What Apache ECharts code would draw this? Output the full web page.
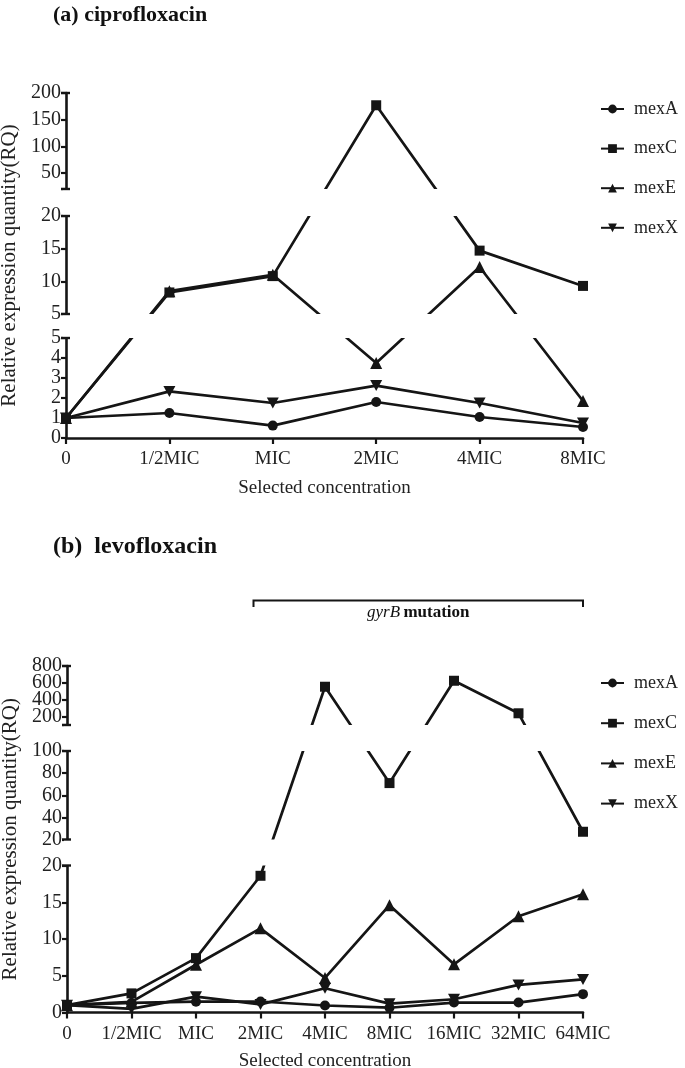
<!DOCTYPE html>
<html><head><meta charset="utf-8">
<script src="https://cdn.jsdelivr.net/npm/echarts@6/dist/echarts.min.js"></script>
<style>html,body{margin:0;padding:0;background:#fff}#c{width:685px;height:1068px}</style>
</head><body><div id="c"></div>
<script>
// ---------- data ----------
const catsA = ['0','1/2MIC','MIC','2MIC','4MIC','8MIC'];
const mexA_a = [1, 1.25, 0.62, 1.8, 1.05, 0.55];
const mexC_a = [1, 8.3, 10.8, 177, 14.7, 9.3];
const mexE_a = [1, 8.5, 11.0, 3.75, 12.2, 1.85];
const mexX_a = [1, 2.33, 1.75, 2.62, 1.75, 0.75];

const catsB = ['0','1/2MIC','MIC','2MIC','4MIC','8MIC','16MIC','32MIC','64MIC'];
const mexA_b = [1, 1.3, 1.47, 1.5, 0.95, 0.65, 1.35, 1.35, 2.5];
const mexC_b = [1, 2.6, 7.4, 18.6, 554, 71, 625, 239, 27];
const mexE_b = [1, 1.45, 6.5, 11.45, 4.7, 14.6, 6.55, 13.1, 16.1];
const mexX_b = [1, 0.5, 2.15, 1.1, 3.3, 1.2, 1.8, 3.75, 4.5];

// tick values of each axis segment (bottom, middle, top)
const ticksA = [[0,1,2,3,4,5],[5,10,15,20],[20,50,100,150,200]];
const labelsA = [[0,1,2,3,4,5],[5,10,15,20],[50,100,150,200]];
const ticksB = [[0,5,10,15,20],[20,40,60,80,100],[100,200,400,600,800]];
// tightly packed top-segment labels of (b) are split over two label layers
const labelsB = [[0,5,10,15,20],[20,40,60,80,100],[200,600]];
const labelsB2 = [[],[],[400,800]];

// ---------- broken-axis scale (value ranges -> display span) ----------
const segA = [{lo:0,hi:5,d0:0,d1:100},{lo:5,hi:20,d0:124,d1:222},{lo:20,hi:200,d0:249,d1:345}];
const segB = [{lo:0,hi:20,d0:0,d1:147},{lo:20,hi:100,d0:173,d1:261.5},{lo:100,hi:800,d0:287.5,d1:346.5}];

function inSeg(v, s){ return s.d0 + (v - s.lo) / (s.hi - s.lo) * (s.d1 - s.d0); }
function toD(v, segs){
  for (let i = 0; i < segs.length; i++) {
    if (v <= segs[i].hi || i === segs.length - 1) return inSeg(v, segs[i]);
  }
}
function tickVals(ticks, segs){ const out=[]; ticks.forEach((arr,i)=>arr.forEach(v=>out.push(inSeg(v,segs[i])))); return out; }
function labelMap(labels, segs){ const m={}; labels.forEach((arr,i)=>arr.forEach(v=>{m[inSeg(v,segs[i]).toFixed(3)]=String(v);})); return m; }

const FONT = 'Liberation Serif';
const INK = '#151515';

function yAxis(gi, segs, ticks, labels, withLine){
  const top = segs[segs.length-1].d1;
  const map = labelMap(labels, segs);
  return {
    type:'value', gridIndex:gi, min:0, max:top, position:'left', offset:0,
    name: withLine ? 'Relative expression quantity(RQ)' : '', nameLocation:'middle', nameGap:42,
    nameTextStyle:{fontFamily:FONT, fontSize:21, color:'#222'},
    splitLine:{show:false},
    axisLine:{show:withLine, lineStyle:{color:INK, width:2.6}},
    axisTick:{show:withLine, length:5, lineStyle:{color:INK, width:2.2}, customValues:tickVals(ticks, segs)},
    axisLabel:{margin:5, fontFamily:FONT, fontSize:20, color:'#222', hideOverlap:false,
      showMinLabel:true, showMaxLabel:true,
      customValues:tickVals(labels, segs), formatter:v=>map[v.toFixed(3)] ?? ''}
  };
}
function xAxis(gi, cats, gap, margin){
  return {
    type:'category', gridIndex:gi, data:cats, boundaryGap:false,
    name:'Selected concentration', nameLocation:'middle', nameGap:gap,
    nameTextStyle:{fontFamily:FONT, fontSize:19, color:'#222'},
    axisLine:{show:true, lineStyle:{color:INK, width:2.6}},
    axisTick:{show:true, length:6, inside:false, lineStyle:{color:INK, width:2.2}},
    axisLabel:{interval:0, margin, fontFamily:FONT, fontSize:19, color:'#222', hideOverlap:false},
    splitLine:{show:false}
  };
}
const downTri = 'path://M0,0L10,0L5,9Z';
const styles = {
  mexA:{symbol:'circle', size:10},
  mexC:{symbol:'rect', size:10},
  mexE:{symbol:'triangle', size:12},
  mexX:{symbol:downTri, size:[12,11]}
};
function ser(name, vals, segs, gi){
  return {
    type:'line', name, xAxisIndex:gi, yAxisIndex:gi,
    data: vals.map(v=>toD(v, segs)),
    symbol:styles[name].symbol, symbolSize:styles[name].size, showSymbol:true,
    lineStyle:{color:INK, width:2.7}, itemStyle:{color:INK},
    animation:false, z:3
  };
}
function legend(top, gap){
  return {
    orient:'vertical', left:600, top, padding:0, itemWidth:23, itemHeight:11, itemGap:gap,
    data:['mexA','mexC','mexE','mexX'], selectedMode:false,
    textStyle:{fontFamily:FONT, fontSize:18, color:'#222', lineHeight:20, padding:[0,0,0,5]}
  };
}

const chart = echarts.init(document.getElementById('c'), null, {renderer:'canvas'});
chart.setOption({
  animation:false,
  backgroundColor:'#fff',
  title:[
    {text:'(a) ciprofloxacin', left:53, top:4, padding:0, textStyle:{fontFamily:FONT, fontWeight:'bold', fontSize:22, color:'#111'}},
    {text:'(b)  levofloxacin', left:53, top:535, padding:0, textStyle:{fontFamily:FONT, fontWeight:'bold', fontSize:24, color:'#111'}}
  ],
  legend:[legend(99, 19.6), legend(673, 20.2)],
  grid:[
    {left:66, top:93, width:517, height:345, containLabel:false, outerBoundsMode:'none'},
    {left:67, top:666, width:516, height:346.5, containLabel:false, outerBoundsMode:'none'}
  ],
  xAxis:[xAxis(0, catsA, 41, 12), xAxis(1, catsB, 39, 12)],
  yAxis:[
    yAxis(0, segA, ticksA, labelsA, true),
    yAxis(1, segB, ticksB, labelsB, true),
    yAxis(1, segB, ticksB, labelsB2, false)
  ],
  series:[
    ser('mexA', mexA_a, segA, 0), ser('mexC', mexC_a, segA, 0), ser('mexE', mexE_a, segA, 0), ser('mexX', mexX_a, segA, 0),
    ser('mexA', mexA_b, segB, 1), ser('mexC', mexC_b, segB, 1), ser('mexE', mexE_b, segB, 1), ser('mexX', mexX_b, segB, 1)
  ]
});

// axis breaks: blank bands + end caps, placed through the axis scales
const g = [];
[[0, segA], [1, segB]].forEach(([gi, segs]) => {
  const ax = chart.convertToPixel({xAxisIndex:gi}, 0);
  for (let i = 0; i < segs.length - 1; i++) {
    const yLow = chart.convertToPixel({yAxisIndex:gi}, segs[i].d1);
    const yHigh = chart.convertToPixel({yAxisIndex:gi}, segs[i+1].d0);
    g.push({type:'rect', z:100, shape:{x:ax-3, y:yHigh, width:598-(ax-3), height:yLow-yHigh}, style:{fill:'#fff'}});
  }
  segs.forEach((s, i) => {
    const ends = i === 0 ? [s.d1] : [s.d0, s.d1];
    ends.forEach(d => {
      const y = chart.convertToPixel({yAxisIndex:gi}, d);
      g.push({type:'line', z:101, shape:{x1:ax-5, y1:y, x2:ax+4, y2:y}, style:{stroke:INK, lineWidth:2.4}});
    });
  });
});
// gyrB annotation bracket over the 2MIC..64MIC range of chart (b)
const bx1 = chart.convertToPixel({xAxisIndex:1}, '2MIC') - 7;
const bx2 = chart.convertToPixel({xAxisIndex:1}, '64MIC');
g.push({type:'polyline', z:101, shape:{points:[[bx1,607],[bx1,600.5],[bx2,600.5],[bx2,607]]}, style:{stroke:INK, lineWidth:2, fill:null}});
g.push({type:'text', z:101, x:(bx1+bx2)/2, y:613, style:{
  text:'{i|gyrB} {b|mutation}', align:'center', verticalAlign:'middle',
  rich:{i:{fontFamily:FONT, fontStyle:'italic', fontSize:17, fill:'#111'}, b:{fontFamily:FONT, fontWeight:'bold', fontSize:17, fill:'#111'}}
}});
chart.setOption({graphic:g});
</script>
</body></html>
